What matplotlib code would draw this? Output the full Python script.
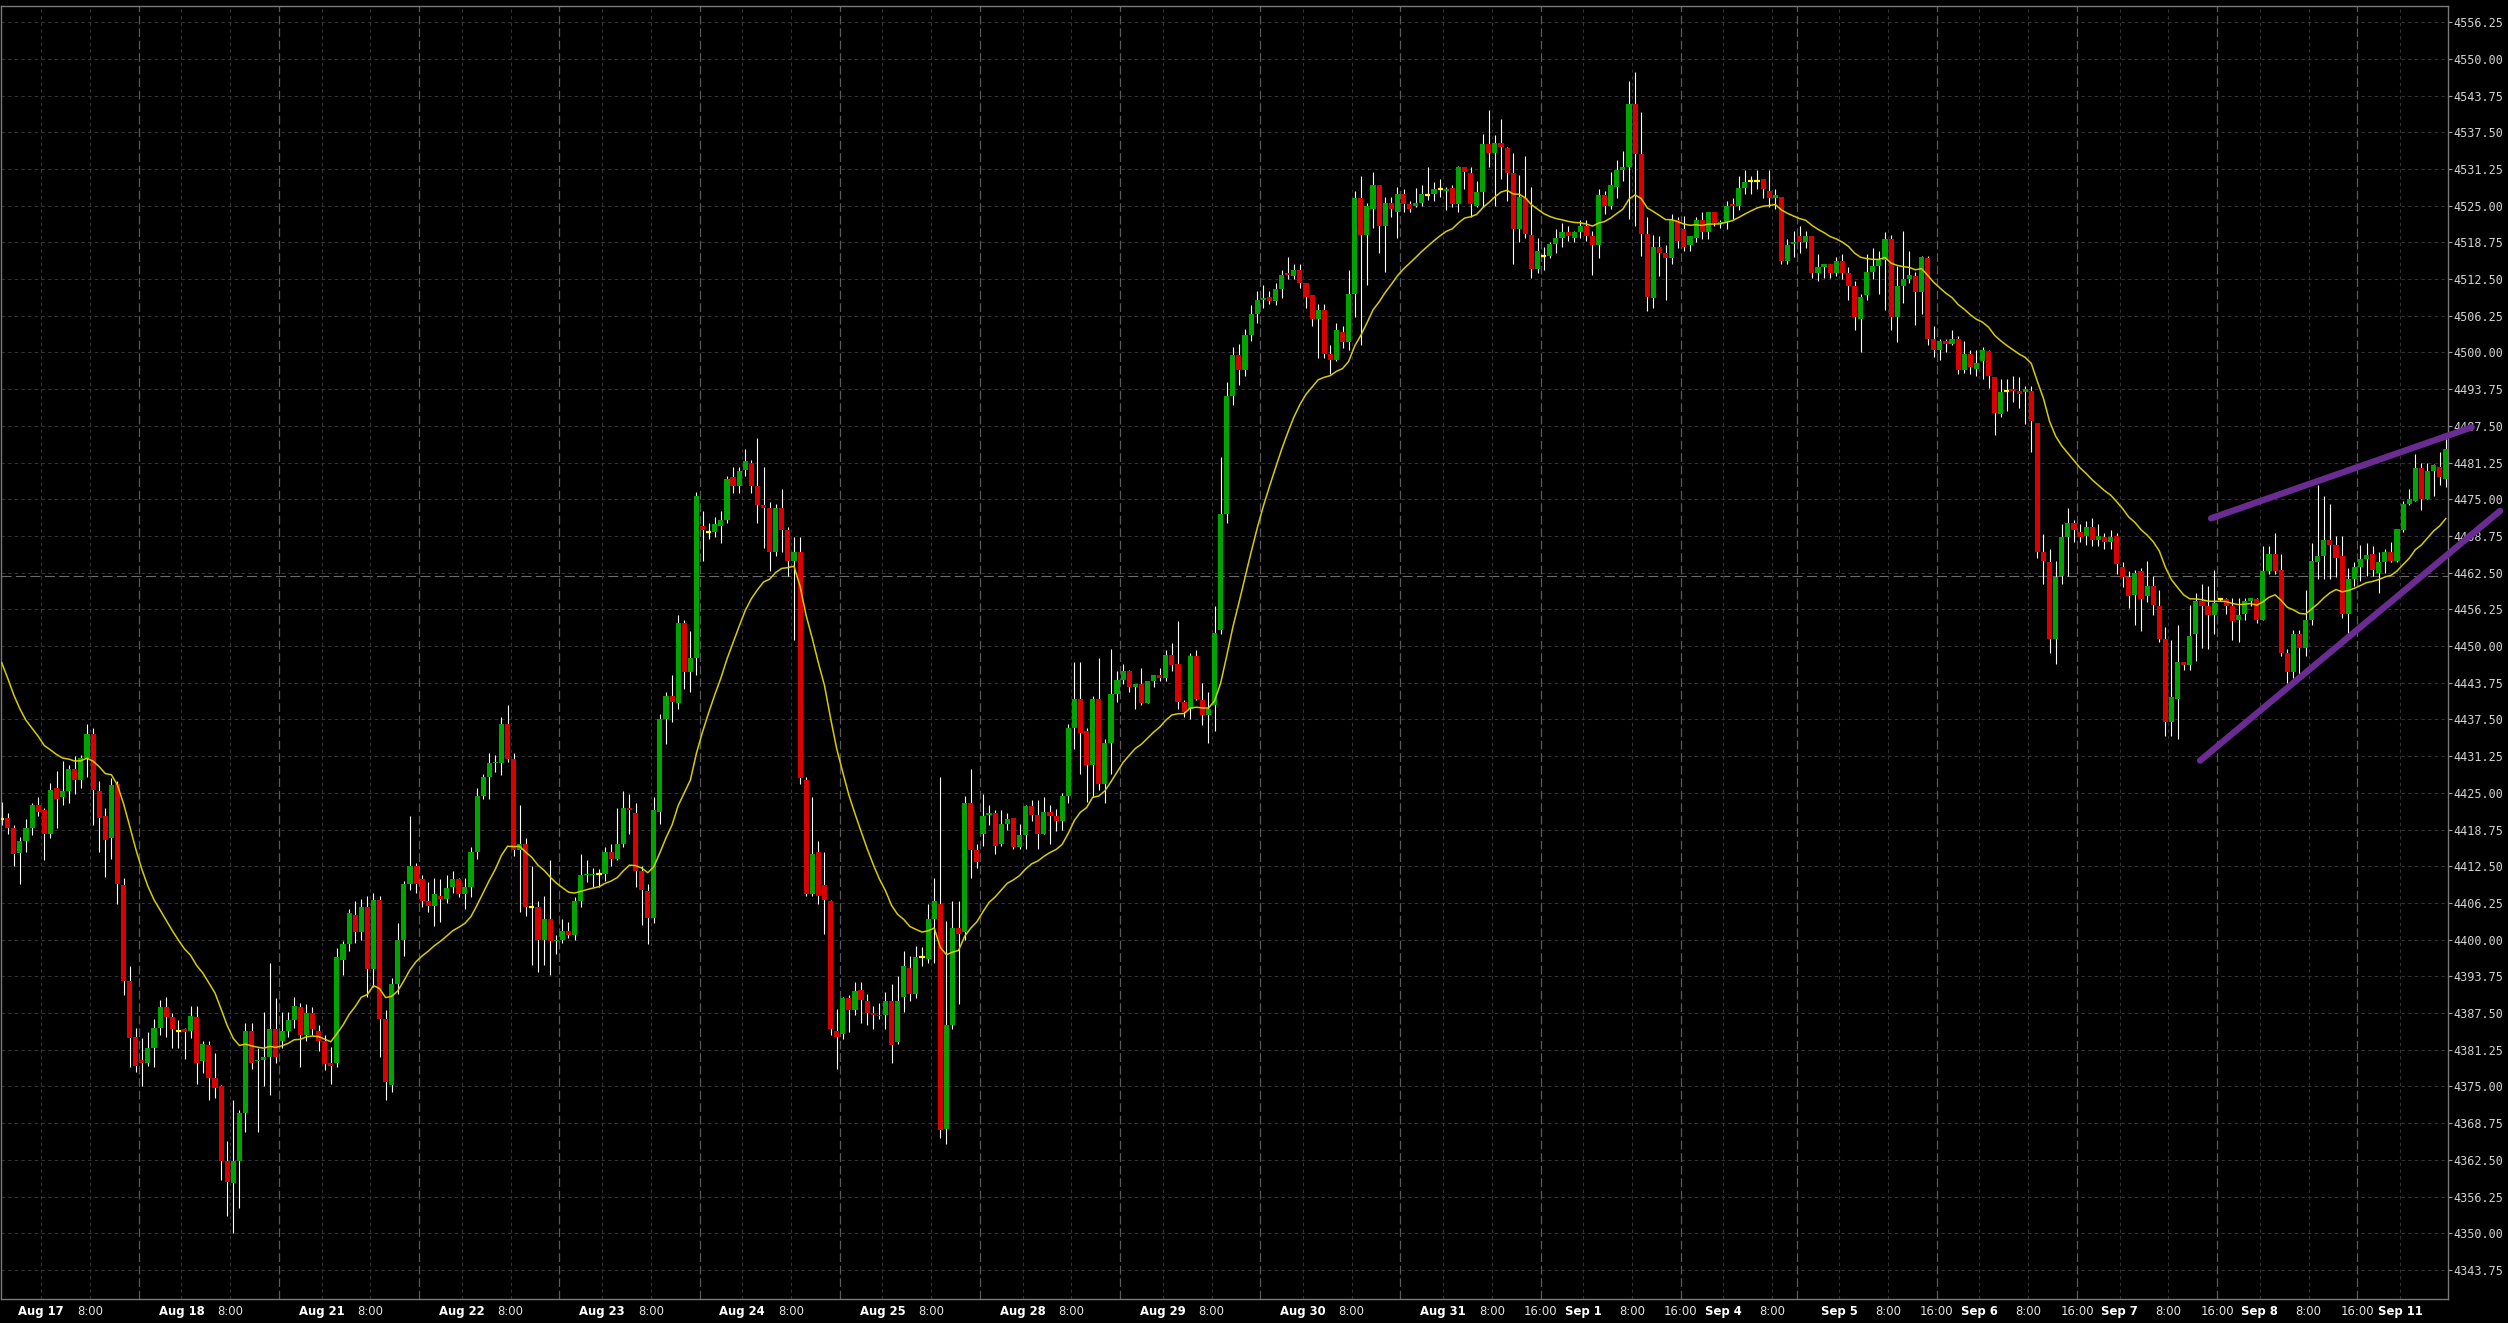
import matplotlib
matplotlib.use('Agg')
import matplotlib.pyplot as plt
import numpy as np
import pandas as pd

# hourly bars (ET), bar 0 = Aug 16 16:00, last bar = Sep 11 07:00
opens = [
    4420.5, 4420.75, 4419.0, 4414.75, 4416.75, 4419.0, 4423.0, 4422.0, 4418.0, 4425.75,      # 0
    4424.25, 4425.25, 4429.0, 4427.25, 4431.0, 4435.0, 4425.25, 4421.0, 4417.25, 4426.5,     # 10
    4409.25, 4393.0, 4383.5, 4379.5, 4379.0, 4381.5, 4385.0, 4388.5, 4386.75, 4384.5,        # 20
    4384.75, 4384.5, 4386.75, 4379.25, 4382.0, 4376.5, 4375.0, 4362.25, 4358.5, 4362.25,     # 30
    4370.5, 4384.5, 4379.25, 4379.5, 4380.0, 4384.75, 4382.75, 4384.5, 4386.25, 4388.5,      # 40
    4383.75, 4387.5, 4384.5, 4382.75, 4379.0, 4379.0, 4396.5, 4399.25, 4404.25, 4401.25,     # 50
    4405.5, 4395.0, 4406.75, 4386.5, 4375.25, 4392.5, 4400.0, 4409.5, 4412.5, 4410.25,       # 60
    4406.5, 4405.75, 4407.5, 4407.0, 4409.0, 4410.25, 4407.75, 4409.0, 4415.0, 4424.5,       # 70
    4427.75, 4430.0, 4430.0, 4436.75, 4430.75, 4415.25, 4416.25, 4405.5, 4405.5, 4400.0,     # 80
    4403.5, 4399.75, 4400.0, 4401.5, 4400.75, 4406.5, 4411.0, 4411.0, 4411.25, 4411.25,      # 90
    4415.0, 4413.75, 4416.25, 4422.5, 4421.5, 4411.75, 4408.25, 4403.75, 4421.75, 4437.5,    # 100
    4441.5, 4440.25, 4454.0, 4445.5, 4448.0, 4470.5, 4469.5, 4469.5, 4470.5, 4471.5,         # 110
    4478.75, 4477.25, 4480.0, 4481.25, 4477.25, 4474.0, 4473.5, 4466.0, 4473.5, 4469.75,     # 120
    4464.5, 4466.0, 4427.25, 4407.75, 4415.0, 4409.25, 4406.5, 4384.5, 4384.0, 4390.0,       # 130
    4388.0, 4391.5, 4389.5, 4387.5, 4387.25, 4387.25, 4389.5, 4382.5, 4390.25, 4395.25,      # 140
    4390.75, 4397.0, 4396.75, 4403.5, 4406.0, 4367.75, 4385.5, 4402.0, 4401.25, 4423.25,     # 150
    4415.25, 4418.0, 4421.25, 4421.5, 4416.25, 4419.75, 4420.75, 4415.75, 4417.75, 4422.75,  # 160
    4421.25, 4418.0, 4421.75, 4421.0, 4420.25, 4424.5, 4436.0, 4441.0, 4435.5, 4429.75,      # 170
    4441.0, 4426.5, 4433.5, 4441.75, 4444.25, 4445.75, 4443.0, 4443.5, 4440.25, 4444.0,      # 180
    4445.0, 4444.5, 4448.5, 4447.0, 4440.5, 4439.25, 4448.25, 4440.75, 4438.25, 4440.0,      # 190
    4452.75, 4472.5, 4492.5, 4499.5, 4497.0, 4503.0, 4506.5, 4509.0, 4509.5, 4508.75,        # 200
    4510.75, 4513.5, 4513.0, 4514.0, 4511.75, 4509.75, 4505.75, 4507.25, 4499.75, 4498.75,   # 210
    4503.5, 4501.75, 4510.0, 4526.25, 4520.0, 4524.5, 4528.5, 4521.5, 4525.5, 4524.0,        # 220
    4527.0, 4525.25, 4525.0, 4525.5, 4526.75, 4527.0, 4527.75, 4527.5, 4528.0, 4525.25,      # 230
    4531.5, 4530.5, 4525.0, 4527.25, 4535.5, 4534.0, 4535.75, 4534.75, 4530.5, 4521.0,       # 240
    4526.25, 4520.0, 4514.25, 4516.5, 4516.5, 4518.5, 4519.5, 4520.5, 4519.5, 4520.5,        # 250
    4521.5, 4519.75, 4518.25, 4526.75, 4525.0, 4528.25, 4531.0, 4531.5, 4542.25, 4533.75,    # 260
    4520.25, 4509.25, 4518.0, 4517.0, 4516.0, 4522.5, 4521.0, 4518.25, 4519.5, 4522.5,       # 270
    4520.5, 4524.0, 4522.0, 4522.25, 4525.25, 4525.0, 4528.0, 4529.25, 4529.25, 4529.5,      # 280
    4527.5, 4526.25, 4526.5, 4515.5, 4518.5, 4519.75, 4518.75, 4519.75, 4513.5, 4514.5,      # 290
    4515.0, 4513.5, 4515.5, 4513.5, 4511.25, 4505.75, 4509.75, 4513.75, 4514.75, 4515.75,    # 300
    4519.25, 4506.0, 4511.25, 4512.5, 4513.0, 4510.25, 4516.0, 4502.25, 4500.5, 4502.0,      # 310
    4501.5, 4502.25, 4497.0, 4499.75, 4497.25, 4498.5, 4500.25, 4495.75, 4489.5, 4493.5,     # 320
    4493.75, 4493.5, 4493.25, 4493.5, 4488.0, 4466.0, 4464.25, 4451.25, 4462.0, 4468.5,      # 330
    4471.0, 4469.5, 4468.75, 4470.25, 4468.0, 4468.5, 4467.75, 4468.75, 4463.5, 4461.75,     # 340
    4458.75, 4462.75, 4458.5, 4460.25, 4456.75, 4451.25, 4437.0, 4441.0, 4447.25, 4446.75,   # 350
    4452.0, 4457.75, 4456.75, 4455.25, 4458.0, 4458.0, 4456.75, 4454.5, 4455.5, 4457.75,     # 360
    4458.0, 4454.5, 4462.75, 4465.75, 4463.0, 4448.75, 4445.5, 4452.0, 4449.75, 4454.5,      # 370
    4464.25, 4465.25, 4468.0, 4467.25, 4465.25, 4455.5, 4461.5, 4463.5, 4464.75, 4465.75,    # 380
    4462.5, 4464.25, 4466.0, 4464.5, 4469.75, 4474.25, 4474.75, 4480.25, 4475.0, 4479.75,    # 390
    4480.5, 4478.5,                                                                          # 400
]
highs = [
    4423.5, 4421.5, 4419.5, 4417.5, 4420.5, 4423.25, 4424.25, 4422.5, 4426.75, 4428.75,
    4430.5, 4429.75, 4431.25, 4431.5, 4436.75, 4436.0, 4427.0, 4422.5, 4427.5, 4427.0,
    4410.5, 4395.5, 4385.0, 4383.25, 4384.25, 4386.5, 4389.75, 4390.25, 4387.5, 4386.25,
    4385.0, 4388.75, 4388.75, 4382.75, 4382.75, 4380.75, 4375.25, 4365.75, 4372.75, 4371.0,
    4385.75, 4385.75, 4381.5, 4387.75, 4396.0, 4390.0, 4387.75, 4387.75, 4390.25, 4389.25,
    4389.0, 4388.5, 4385.5, 4383.75, 4381.75, 4398.5, 4399.75, 4405.25, 4406.5, 4407.0,
    4407.5, 4408.0, 4407.5, 4388.0, 4393.5, 4402.75, 4410.0, 4421.0, 4413.0, 4411.0,
    4409.75, 4410.5, 4410.25, 4411.0, 4411.75, 4410.5, 4410.5, 4415.75, 4425.75, 4428.25,
    4431.75, 4431.5, 4438.0, 4440.0, 4431.75, 4423.0, 4417.25, 4412.5, 4406.5, 4407.5,
    4413.5, 4400.75, 4403.5, 4403.0, 4407.25, 4414.5, 4413.5, 4412.25, 4412.0, 4415.75,
    4416.25, 4422.5, 4425.25, 4424.75, 4423.25, 4412.5, 4409.5, 4424.25, 4438.5, 4442.25,
    4445.0, 4455.25, 4454.5, 4452.5, 4476.25, 4473.0, 4471.0, 4472.0, 4473.0, 4479.0,
    4480.5, 4480.5, 4483.5, 4481.75, 4485.5, 4480.5, 4474.5, 4474.25, 4476.75, 4470.25,
    4468.5, 4468.5, 4427.75, 4424.25, 4416.75, 4415.0, 4406.75, 4388.25, 4390.25, 4390.5,
    4392.75, 4392.75, 4390.75, 4388.75, 4389.25, 4391.0, 4392.5, 4393.75, 4398.0, 4397.25,
    4399.0, 4398.75, 4406.0, 4410.5, 4427.75, 4403.25, 4406.5, 4406.5, 4424.5, 4429.0,
    4416.25, 4424.75, 4423.0, 4422.0, 4422.0, 4421.5, 4420.75, 4419.75, 4423.0, 4423.75,
    4423.75, 4424.25, 4423.0, 4422.25, 4425.0, 4436.75, 4447.25, 4447.25, 4436.0, 4441.5,
    4448.0, 4434.25, 4449.5, 4445.75, 4447.0, 4446.0, 4443.5, 4446.25, 4444.0, 4445.0,
    4446.25, 4449.25, 4450.5, 4454.25, 4440.75, 4448.75, 4449.25, 4443.75, 4442.25, 4456.75,
    4482.25, 4495.0, 4501.0, 4501.5, 4504.0, 4508.0, 4510.5, 4511.5, 4510.5, 4511.75,
    4514.0, 4516.25, 4515.0, 4515.0, 4511.75, 4509.75, 4508.25, 4508.25, 4501.25, 4505.0,
    4504.5, 4514.0, 4527.5, 4530.0, 4525.5, 4530.75, 4528.5, 4526.5, 4526.5, 4528.25,
    4527.75, 4525.75, 4528.0, 4528.5, 4531.5, 4529.0, 4529.5, 4528.25, 4528.5, 4531.75,
    4531.5, 4531.5, 4529.25, 4537.25, 4541.25, 4537.0, 4539.75, 4535.0, 4534.0, 4530.25,
    4533.5, 4528.25, 4519.5, 4518.0, 4518.75, 4521.0, 4522.0, 4521.5, 4520.75, 4522.5,
    4522.5, 4520.75, 4527.75, 4527.5, 4530.75, 4532.75, 4534.25, 4546.25, 4547.75, 4541.0,
    4523.0, 4520.0, 4519.75, 4518.25, 4523.5, 4523.0, 4523.25, 4519.75, 4523.0, 4524.0,
    4524.0, 4524.0, 4522.5, 4525.75, 4526.25, 4530.0, 4531.0, 4530.0, 4531.0, 4529.5,
    4531.0, 4527.75, 4526.5, 4519.25, 4520.75, 4521.5, 4520.75, 4519.75, 4516.75, 4515.0,
    4515.0, 4516.25, 4516.75, 4514.5, 4512.25, 4510.0, 4516.75, 4517.75, 4517.25, 4520.5,
    4520.0, 4514.75, 4520.75, 4517.25, 4513.75, 4516.5, 4516.5, 4504.5, 4502.25, 4502.25,
    4503.75, 4502.75, 4502.0, 4500.5, 4500.5, 4501.0, 4500.5, 4495.75, 4495.5, 4495.5,
    4496.0, 4495.75, 4494.25, 4494.25, 4488.0, 4469.0, 4466.5, 4464.5, 4470.75, 4473.5,
    4471.5, 4470.75, 4471.25, 4471.75, 4470.75, 4469.25, 4469.75, 4469.25, 4464.25, 4462.75,
    4463.0, 4463.25, 4464.5, 4462.0, 4459.5, 4453.25, 4451.0, 4453.5, 4447.25, 4457.0,
    4459.0, 4460.5, 4460.25, 4463.0, 4458.25, 4458.25, 4458.25, 4458.25, 4458.25, 4458.25,
    4458.25, 4467.0, 4467.0, 4469.25, 4465.75, 4449.5, 4452.75, 4452.75, 4459.5, 4467.5,
    4477.5, 4475.5, 4474.25, 4468.75, 4468.75, 4463.25, 4464.25, 4467.25, 4467.5, 4467.0,
    4466.0, 4466.5, 4467.75, 4470.0, 4474.75, 4476.75, 4482.75, 4481.25, 4481.25, 4481.0,
    4483.0, 4485.25,
]
lows = [
    4419.5, 4418.0, 4412.5, 4409.5, 4415.0, 4417.75, 4421.0, 4413.5, 4417.25, 4419.0,
    4423.0, 4423.25, 4424.75, 4425.75, 4427.75, 4419.5, 4415.0, 4410.75, 4413.75, 4406.0,
    4390.5, 4378.25, 4377.5, 4375.0, 4378.5, 4378.25, 4383.75, 4383.5, 4381.5, 4381.5,
    4379.75, 4383.25, 4375.5, 4377.25, 4372.75, 4373.0, 4359.0, 4353.0, 4350.0, 4354.25,
    4367.25, 4378.0, 4367.25, 4375.0, 4373.5, 4379.0, 4381.5, 4383.5, 4385.0, 4378.25,
    4382.75, 4383.75, 4381.0, 4377.75, 4375.5, 4378.25, 4394.0, 4398.0, 4399.5, 4400.0,
    4390.25, 4392.0, 4380.0, 4372.75, 4374.0, 4390.75, 4397.25, 4408.5, 4408.0, 4405.5,
    4404.75, 4402.25, 4403.0, 4406.25, 4408.0, 4407.25, 4405.25, 4407.25, 4413.75, 4424.0,
    4424.0, 4428.5, 4428.0, 4430.25, 4414.25, 4404.75, 4404.0, 4395.75, 4394.5, 4395.75,
    4394.0, 4397.5, 4399.5, 4400.25, 4400.0, 4405.5, 4409.75, 4409.0, 4409.0, 4410.0,
    4412.5, 4413.5, 4415.75, 4418.0, 4409.0, 4402.5, 4399.25, 4402.75, 4419.75, 4433.25,
    4437.0, 4439.25, 4442.75, 4442.25, 4445.0, 4464.5, 4468.25, 4468.5, 4467.5, 4471.0,
    4476.0, 4476.0, 4479.0, 4476.0, 4471.0, 4466.75, 4462.75, 4465.25, 4466.0, 4462.0,
    4451.0, 4426.5, 4407.5, 4407.5, 4406.0, 4401.0, 4383.75, 4378.0, 4383.0, 4384.25,
    4387.25, 4385.75, 4385.5, 4384.75, 4386.5, 4384.75, 4379.0, 4382.25, 4387.75, 4389.5,
    4390.0, 4395.5, 4396.0, 4396.0, 4366.25, 4365.25, 4384.75, 4389.0, 4400.0, 4410.5,
    4412.25, 4416.0, 4419.5, 4414.5, 4416.0, 4418.75, 4415.5, 4415.5, 4415.5, 4420.25,
    4415.5, 4418.0, 4416.25, 4418.5, 4418.75, 4423.25, 4432.5, 4428.25, 4423.5, 4424.25,
    4425.5, 4423.25, 4428.25, 4440.5, 4443.5, 4442.25, 4439.25, 4440.0, 4440.25, 4443.0,
    4444.0, 4444.0, 4445.75, 4439.25, 4438.0, 4437.5, 4440.75, 4436.5, 4433.5, 4435.5,
    4452.0, 4471.0, 4491.0, 4494.5, 4496.0, 4502.0, 4505.0, 4507.5, 4508.25, 4508.0,
    4509.25, 4512.5, 4512.5, 4511.0, 4507.5, 4504.5, 4499.0, 4499.0, 4496.25, 4498.5,
    4500.75, 4500.5, 4506.0, 4501.25, 4511.5, 4521.25, 4517.0, 4513.75, 4523.0, 4519.5,
    4524.0, 4524.0, 4524.75, 4525.0, 4526.0, 4525.75, 4526.5, 4524.25, 4524.75, 4524.0,
    4527.75, 4523.0, 4524.75, 4524.75, 4531.5, 4525.0, 4529.5, 4525.75, 4515.0, 4518.75,
    4519.5, 4512.75, 4513.5, 4514.0, 4516.0, 4517.0, 4518.0, 4519.0, 4518.75, 4519.5,
    4519.0, 4513.25, 4516.0, 4523.5, 4524.5, 4526.25, 4529.25, 4522.75, 4521.5, 4516.5,
    4507.0, 4507.5, 4513.0, 4509.0, 4515.0, 4517.75, 4517.25, 4517.25, 4518.75, 4519.25,
    4519.25, 4521.5, 4521.25, 4521.0, 4522.75, 4524.25, 4527.0, 4527.0, 4527.75, 4526.25,
    4524.75, 4524.5, 4515.0, 4515.0, 4516.25, 4517.0, 4517.75, 4512.75, 4512.25, 4512.75,
    4512.75, 4513.0, 4512.5, 4509.0, 4503.75, 4500.0, 4509.0, 4512.5, 4510.0, 4507.25,
    4503.75, 4501.75, 4508.5, 4511.75, 4504.75, 4506.5, 4501.25, 4499.25, 4498.75, 4500.0,
    4501.25, 4496.25, 4496.5, 4496.25, 4496.0, 4495.5, 4494.0, 4486.0, 4489.0, 4490.0,
    4491.5, 4490.5, 4487.75, 4483.0, 4465.0, 4460.5, 4448.75, 4447.0, 4460.5, 4462.0,
    4467.75, 4467.75, 4467.25, 4467.0, 4467.0, 4466.5, 4466.5, 4462.25, 4460.0, 4456.5,
    4453.5, 4452.5, 4457.5, 4455.25, 4450.75, 4434.75, 4434.75, 4434.25, 4446.0, 4446.0,
    4447.5, 4449.75, 4449.5, 4452.0, 4457.75, 4455.5, 4451.0, 4450.75, 4454.5, 4456.75,
    4454.0, 4454.5, 4462.25, 4462.25, 4448.25, 4443.75, 4444.5, 4445.25, 4448.25, 4453.5,
    4461.5, 4461.5, 4461.5, 4461.75, 4454.75, 4452.0, 4460.25, 4461.0, 4462.0, 4462.0,
    4459.0, 4462.5, 4464.25, 4464.25, 4469.5, 4474.0, 4474.75, 4473.25, 4475.0, 4475.5,
    4477.5, 4477.0,
]
closes = [
    4420.5, 4419.0, 4414.5, 4416.75, 4419.0, 4423.0, 4421.75, 4418.0, 4425.5, 4424.0,
    4425.25, 4429.0, 4427.25, 4431.0, 4435.0, 4425.5, 4420.75, 4417.0, 4426.25, 4409.5,
    4393.0, 4383.25, 4378.5, 4379.0, 4381.5, 4385.0, 4388.5, 4386.75, 4384.75, 4384.5,
    4384.25, 4387.0, 4379.0, 4382.25, 4376.5, 4374.75, 4362.25, 4358.75, 4362.25, 4370.5,
    4384.5, 4379.0, 4379.5, 4380.0, 4384.75, 4380.0, 4384.5, 4386.25, 4388.75, 4383.75,
    4387.5, 4384.75, 4382.75, 4378.75, 4378.5, 4397.0, 4399.25, 4404.5, 4401.25, 4405.5,
    4395.0, 4406.75, 4386.5, 4375.75, 4392.5, 4400.0, 4409.5, 4412.5, 4409.5, 4406.5,
    4405.75, 4407.75, 4407.0, 4408.75, 4410.25, 4407.75, 4409.0, 4415.0, 4424.5, 4427.75,
    4430.0, 4430.25, 4436.75, 4430.75, 4415.25, 4416.25, 4405.5, 4405.5, 4400.0, 4403.5,
    4399.75, 4400.0, 4401.5, 4400.75, 4406.5, 4411.0, 4411.25, 4411.25, 4411.25, 4415.0,
    4413.75, 4416.25, 4422.5, 4422.0, 4411.75, 4408.5, 4403.75, 4422.0, 4437.5, 4441.5,
    4440.5, 4454.0, 4445.5, 4448.0, 4475.5, 4469.75, 4469.5, 4470.75, 4471.5, 4478.5,
    4477.25, 4479.75, 4481.5, 4477.25, 4474.0, 4473.5, 4466.0, 4473.5, 4469.75, 4464.5,
    4466.0, 4427.5, 4407.75, 4414.5, 4407.5, 4406.75, 4384.75, 4383.5, 4390.0, 4388.0,
    4391.25, 4389.75, 4387.5, 4387.25, 4387.0, 4389.5, 4382.0, 4389.5, 4395.5, 4390.75,
    4397.0, 4397.0, 4403.5, 4406.5, 4367.5, 4385.5, 4402.0, 4401.0, 4423.25, 4415.25,
    4413.25, 4421.0, 4421.5, 4416.0, 4419.75, 4420.5, 4415.75, 4417.75, 4422.75, 4421.25,
    4418.0, 4421.75, 4421.0, 4420.25, 4424.5, 4436.0, 4441.0, 4435.25, 4429.75, 4441.0,
    4426.5, 4433.5, 4441.75, 4444.25, 4445.75, 4443.0, 4443.5, 4440.25, 4444.0, 4445.0,
    4444.5, 4448.5, 4446.75, 4440.5, 4438.75, 4448.25, 4441.0, 4438.25, 4439.25, 4452.25,
    4472.5, 4492.5, 4499.5, 4497.0, 4503.0, 4506.5, 4509.0, 4509.25, 4508.75, 4510.75,
    4513.25, 4513.25, 4514.0, 4511.75, 4509.5, 4505.75, 4507.25, 4499.75, 4498.75, 4503.75,
    4501.75, 4510.0, 4526.25, 4520.0, 4525.0, 4528.5, 4521.5, 4525.5, 4524.5, 4527.0,
    4525.25, 4524.5, 4525.5, 4527.0, 4526.75, 4527.75, 4527.75, 4527.75, 4525.25, 4531.5,
    4530.75, 4525.25, 4527.25, 4535.5, 4534.0, 4535.75, 4535.0, 4530.5, 4521.0, 4526.5,
    4520.25, 4514.25, 4517.25, 4516.5, 4518.5, 4519.5, 4520.5, 4519.75, 4520.5, 4521.5,
    4519.75, 4518.25, 4526.75, 4525.0, 4528.5, 4531.0, 4531.5, 4542.25, 4533.75, 4520.25,
    4509.5, 4518.0, 4517.0, 4516.0, 4522.5, 4519.0, 4518.0, 4519.75, 4522.5, 4520.5,
    4524.0, 4522.0, 4522.25, 4525.0, 4525.0, 4528.0, 4529.0, 4529.25, 4529.25, 4527.75,
    4526.25, 4526.75, 4515.5, 4518.25, 4518.75, 4518.75, 4519.75, 4513.5, 4514.5, 4515.0,
    4513.5, 4515.5, 4513.5, 4511.25, 4506.0, 4509.5, 4513.75, 4514.75, 4515.75, 4519.25,
    4506.0, 4511.25, 4512.5, 4513.25, 4510.25, 4516.25, 4502.25, 4500.5, 4502.0, 4501.5,
    4502.25, 4497.0, 4499.75, 4497.5, 4498.25, 4500.5, 4496.0, 4489.75, 4493.25, 4493.5,
    4493.5, 4493.0, 4493.75, 4488.25, 4466.0, 4464.5, 4451.25, 4461.75, 4468.5, 4471.0,
    4469.75, 4468.5, 4470.25, 4468.0, 4468.75, 4467.75, 4468.5, 4464.0, 4461.75, 4458.5,
    4462.5, 4458.0, 4460.25, 4457.0, 4451.25, 4437.0, 4441.25, 4447.25, 4446.75, 4451.75,
    4457.75, 4456.75, 4455.25, 4457.25, 4458.0, 4456.75, 4454.25, 4455.25, 4457.75, 4458.25,
    4454.5, 4462.75, 4465.75, 4462.75, 4448.75, 4445.5, 4452.0, 4449.75, 4454.5, 4464.5,
    4465.25, 4468.0, 4467.25, 4465.0, 4455.5, 4461.5, 4463.5, 4464.75, 4465.5, 4463.0,
    4464.25, 4466.0, 4464.5, 4470.0, 4474.25, 4475.0, 4480.25, 4475.0, 4479.75, 4480.75,
    4478.75, 4483.5,
]

# trading sessions shown on the axis (bar 0 belongs to the Aug 16 session)
session_days = ['Aug 17', 'Aug 18', 'Aug 21', 'Aug 22', 'Aug 23', 'Aug 24', 'Aug 25',
                'Aug 28', 'Aug 29', 'Aug 30', 'Aug 31', 'Sep 1', 'Sep 4', 'Sep 5',
                'Sep 6', 'Sep 7', 'Sep 8', 'Sep 11']
session_bars = [23, 23, 23, 23, 23, 23, 23, 23, 23, 23, 23, 23, 19, 23, 23, 23, 23, 14]
days_with_16 = ['Aug 31', 'Sep 1', 'Sep 5', 'Sep 6', 'Sep 7', 'Sep 8']

ma_seed = 4450.0     # average value just before the first bar
ma_span = 20
ref_price = 4462.0   # long dashed price line

trend_upper_x = [362.5, 405.25]
trend_upper_y = [4471.75, 4487.25]
trend_lower_x = [360.7, 409.9]
trend_lower_y = [4430.5, 4473.0]

n = len(closes)
assert len(opens) == n and len(highs) == n and len(lows) == n, (len(opens), len(highs), len(lows), n)

o = np.array(opens)
h = np.array(highs)
l = np.array(lows)
c = np.array(closes)
x = np.arange(n)

fig = plt.figure(figsize=(25.08, 13.23), dpi=100, facecolor='black')
ax = fig.add_axes([1 / 2508, 1 - 1299 / 1323, 2447 / 2508, 1293 / 1323])
ax.set_facecolor('black')

grid_col = '#333333'

# grid
yt = np.arange(4343.75, 4556.3, 6.25)
for v in yt:
    ax.axhline(v, color=grid_col, lw=0.8, ls=(0, (3, 3)), zorder=0)
ax.axhline(ref_price, color='#6a6a6a', lw=0.8, ls=(0, (9, 4)), zorder=0)

ticks, labels, bold = [], [], []
start = 1
for k, (day, nb) in enumerate(zip(session_days, session_bars)):
    midnight = start + 6
    eight = start + 14
    last = start + nb - 1
    ax.axvline(midnight - 0.5, color=grid_col, lw=0.8, ls=(0, (3, 3)), zorder=0)
    ticks.append(midnight - 0.5); labels.append(day); bold.append(True)
    if eight < n:
        ax.axvline(eight - 0.5, color=grid_col, lw=0.8, ls=(0, (3, 3)), zorder=0)
        ticks.append(eight - 0.5); labels.append('8:00'); bold.append(False)
    if k < len(session_days) - 1:
        ax.axvline(last - 0.5, color='#5a5a5a', lw=0.9, ls=(0, (7, 3)), zorder=0)
        if day in days_with_16:
            ticks.append(last - 0.5); labels.append('16:00'); bold.append(False)
    start += nb

# candles
up = c > o
down = c < o
doji = c == o
ax.vlines(x, np.minimum(l, np.minimum(o, c)), np.maximum(h, np.maximum(o, c)),
          color='white', lw=0.8, zorder=2)
ax.bar(x[up], (c - o)[up], bottom=o[up], width=0.84, color='#00a400', linewidth=0, zorder=3)
ax.bar(x[down], (c - o)[down], bottom=o[down], width=0.84, color='#d80000', linewidth=0, zorder=3)
ax.hlines(o[doji], x[doji] - 0.42, x[doji] + 0.42, color='#ffff00', lw=1.6, zorder=3)

# moving average
ma = pd.Series([ma_seed] + closes).ewm(span=ma_span, adjust=False).mean().iloc[1:].values
ax.plot(x, ma, color='#d6cc00', lw=1.1, zorder=4)

# trend lines, they run over the price scale
for tx, ty in [(trend_upper_x, trend_upper_y), (trend_lower_x, trend_lower_y)]:
    ax.plot(tx, ty, color='#6a2c92', lw=4.6, solid_capstyle='round', clip_on=False, zorder=10)

ax.set_xlim(-0.107, 401.37)
ax.set_ylim(4338.8, 4559.0)

ax.yaxis.tick_right()
ax.set_yticks(yt)
ax.set_yticklabels(['%.2f' % v for v in yt], family='DejaVu Sans Mono')
ax.tick_params(axis='y', length=2.6, width=0.8, color='#a0a0a0', pad=1.5,
               labelsize=8.5, labelcolor='#d2d2d2')

ax.set_xticks(ticks)
ax.set_xticklabels(labels)
ax.tick_params(axis='x', length=0, pad=4, labelsize=8.4, labelcolor='white')
for lab, b in zip(ax.get_xticklabels(), bold):
    lab.set_fontweight('bold' if b else 'normal')
    if not b:
        lab.set_color('#e6e6e6')

for s in ax.spines.values():
    s.set_color('#7a7a7a')
    s.set_linewidth(1.0)

fig.savefig('out.png', dpi=100, facecolor='black')
